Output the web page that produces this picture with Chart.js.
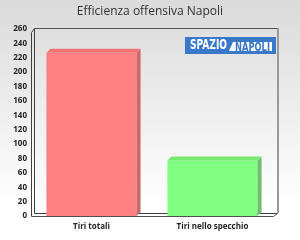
<!DOCTYPE html>
<html><head><meta charset="utf-8">
<script src="https://cdn.jsdelivr.net/npm/chart.js@4/dist/chart.umd.min.js"></script>
<style>html,body{margin:0;padding:0;background:#fff}canvas{display:block}</style>
</head><body>
<canvas id="c" width="300" height="240"></canvas>
<script>
const categories = ["Tiri totali", "Tiri nello specchio"];
const values = [227, 77];
const yMin = 0, yMax = 260, yStep = 20;
const titleText = "Efficienza offensiva Napoli";
const logoWords = ["SPAZIO", "NAPOLI"];

const frontColors = ["#ff8080", "#80ff80"];
const sideColors = ["#c86a6a", "#6cbf6c"];
const topColors = ["#f07474", "#74ec74"];
const D = 4; // 3D depth

const bgPlugin = {
  id: 'bg',
  beforeDraw(chart) {
    const ctx = chart.ctx;
    const g = ctx.createLinearGradient(0, 0, 0, 240);
    g.addColorStop(0, '#dadada');
    g.addColorStop(0.85, '#ffffff');
    g.addColorStop(1, '#ffffff');
    ctx.save(); ctx.fillStyle = g; ctx.fillRect(0, 0, 300, 240); ctx.restore();
  },
  beforeDatasetsDraw(chart) {
    const ctx = chart.ctx, a = chart.chartArea;
    const L = a.left, R = a.right, T = a.top, B = a.bottom;
    ctx.save();
    ctx.lineWidth = 1;
    ctx.strokeStyle = '#404040';
    ctx.beginPath();
    ctx.moveTo(L + 0.5, B + 0.5); ctx.lineTo(L + 0.5, T + D - 1 + 0.5); ctx.lineTo(L + D - 1 + 0.5, T - 1 + 0.5);
    ctx.lineTo(L + D - 1 + 0.5, B - D + 1 + 0.5);
    ctx.stroke();
    ctx.strokeStyle = '#505050';
    ctx.beginPath();
    ctx.moveTo(L + D - 1 + 0.5, T - 1 + 0.5); ctx.lineTo(R + D + 0.5, T - 1 + 0.5);
    ctx.stroke();
    ctx.strokeStyle = '#9a9a9a';
    ctx.lineWidth = 2;
    ctx.beginPath();
    ctx.moveTo(R + D + 1, T - 1); ctx.lineTo(R + D + 1, B - D + 1);
    ctx.stroke();
    ctx.lineWidth = 1;
    ctx.strokeStyle = '#404040';
    ctx.beginPath();
    ctx.moveTo(L + D - 1 + 0.5, B - D + 1 + 0.5); ctx.lineTo(R + D + 0.5, B - D + 1 + 0.5);
    ctx.stroke();
    ctx.strokeStyle = '#505050';
    ctx.beginPath();
    ctx.moveTo(L + 0.5, B + 0.5); ctx.lineTo(R + 0.5, B + 0.5); ctx.lineTo(R + D + 0.5, B - D + 1 + 0.5);
    ctx.stroke();
    ctx.restore();
  },
  afterDatasetsDraw(chart) {
    const ctx = chart.ctx;
    const meta = chart.getDatasetMeta(0);
    ctx.save();
    meta.data.forEach((bar, i) => {
      const p = bar.getProps(['x', 'y', 'base', 'width'], true);
      const l = p.x - p.width / 2, r = p.x + p.width / 2, t = p.y, b = p.base;
      ctx.fillStyle = sideColors[i];
      ctx.beginPath();
      ctx.moveTo(r, t); ctx.lineTo(r + D, t - D); ctx.lineTo(r + D, b - D); ctx.lineTo(r, b); ctx.closePath();
      ctx.fill();
      ctx.fillStyle = topColors[i];
      ctx.beginPath();
      ctx.moveTo(l, t); ctx.lineTo(l + D, t - D); ctx.lineTo(r + D, t - D); ctx.lineTo(r, t); ctx.closePath();
      ctx.fill();
    });
    ctx.restore();
  },
  afterDraw(chart) {
    const ctx = chart.ctx;
    ctx.save();
    ctx.fillStyle = '#333333';
    ctx.font = '12px "Open Sans", sans-serif';
    ctx.textAlign = 'center';
    ctx.textBaseline = 'middle';
    ctx.fillText(titleText, 150, 12);
    ctx.fillStyle = '#3a78c9';
    ctx.fillRect(185, 37, 91, 17);
    ctx.fillStyle = '#ffffff';
    ctx.beginPath();
    ctx.moveTo(233, 42); ctx.lineTo(272, 42); ctx.lineTo(272, 51); ctx.lineTo(229, 51); ctx.closePath();
    ctx.fill();
    const fitText = (txt, x, baseline, w, size, color) => {
      ctx.font = 'bold ' + size + 'px "DejaVu Sans Condensed", "Liberation Sans Narrow", "DejaVu Sans", sans-serif';
      const m = ctx.measureText(txt).width;
      ctx.save();
      ctx.translate(x, baseline);
      ctx.scale(w / m, 1);
      ctx.fillStyle = color;
      ctx.textAlign = 'left';
      ctx.textBaseline = 'alphabetic';
      ctx.fillText(txt, 0, 0);
      ctx.restore();
    };
    fitText(logoWords[0], 190, 49, 37, 14, '#ffffff');
    fitText(logoWords[1], 235, 50.5, 35, 12.5, '#3a78c9');
    ctx.restore();
  }
};

new Chart(document.getElementById('c'), {
  type: 'bar',
  data: {
    labels: categories,
    datasets: [{
      data: values,
      backgroundColor: frontColors,
      borderWidth: 0,
      barPercentage: 0.745,
      categoryPercentage: 1.0
    }]
  },
  options: {
    responsive: false,
    animation: false,
    devicePixelRatio: 1,
    layout: { padding: { left: 0, right: 27, top: 29, bottom: 0 } },
    plugins: {
      legend: { display: false },
      tooltip: { enabled: false },
      title: { display: false }
    },
    scales: {
      x: {
        grid: { display: false, drawTicks: false },
        border: { display: false },
        ticks: { color: '#222', font: { family: '"Open Sans", sans-serif', size: 8, weight: 'bold' }, padding: 6 },
        afterFit(s) { s.height = 24; }
      },
      y: {
        min: yMin, max: yMax,
        grid: { display: false, drawTicks: false },
        border: { display: false },
        ticks: { stepSize: yStep, color: '#222', font: { family: '"Open Sans", sans-serif', size: 8, weight: 'bold' }, padding: 4 },
        afterFit(s) { s.width = 31; }
      }
    }
  },
  plugins: [bgPlugin]
});
</script>
</body></html>
